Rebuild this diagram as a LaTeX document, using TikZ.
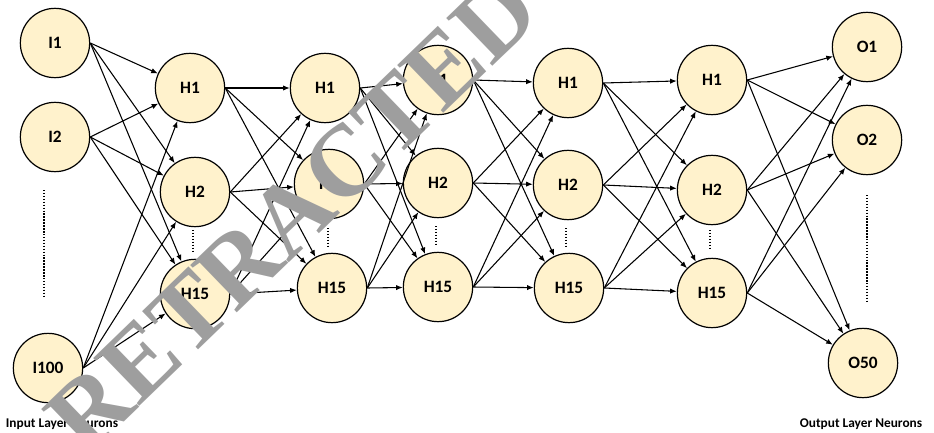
\documentclass[tikz,border=0pt]{standalone}
\usepackage{fontspec}
\setmainfont{Carlito}
\newfontfamily\stampfont{Liberation Serif}
\usepackage{tikz}
\usetikzlibrary{arrows.meta}
\definecolor{cellfill}{HTML}{FFF2CC}
\definecolor{stampgray}{RGB}{158,158,158}

\begin{document}
\begin{tikzpicture}[x=0.75pt, y=-0.75pt]
    \tikzstyle{neuron}=[circle, draw, line width=0.9pt, fill=cellfill,
                        minimum size=52pt, inner sep=0pt,
                        font=\fontsize{13}{15}\selectfont\bfseries]
    \tikzstyle{syn}=[line width=0.8pt, -{Latex[length=5pt,width=4pt]}]
    \tikzstyle{more}=[line width=1.6pt, dash pattern=on 1.1pt off 1.1pt]
    \tikzstyle{caption}=[font=\fontsize{10}{12}\selectfont\bfseries]
    \useasboundingbox (0,0) rectangle (934,432);
    % neurons: layer l, row n
    \foreach \x/\y/\name/\txt in {55/43/l0n1/I1, 55/137/l0n2/I2, 48/368/l0n3/I100,
        190/88/l1n1/H1, 195/192/l1n2/H2, 195/294/l1n3/H15,
        325/88/l2n1/H1, 329/184/l2n2/H2, 332/288/l2n3/H15,
        438/80/l3n1/H1, 438/183/l3n2/H2, 438/287/l3n3/H15,
        568/83/l4n1/H1, 568/185/l4n2/H2, 569/288/l4n3/H15,
        712/80/l5n1/H1, 712/190/l5n2/H2, 712/293/l5n3/H15,
        867/47/l6n1/O1, 867/140/l6n2/O2, 863/363/l6n3/O50}
        \node[neuron] (\name) at (\x,\y) {\txt};
    % connections
    \foreach \l [evaluate=\l as \m using int(\l+1)] in {0,...,5}
        \foreach \s in {1,2,3}
            \foreach \t in {1,2,3}
                \draw[syn] (l\l n\s.east) -- (l\m n\t);
    % skipped neurons
    \draw[more] (44,190) -- (44,298);
    \draw[more] (867,195) -- (867,302);
    \foreach \x/\a/\b in {193/230/252, 328/228/247, 436/226/245, 566/228/248, 710/230/250}
        \draw[more] (\x,\a) -- (\x,\b);
    \node[caption] (inlab) at (62,424) {Input Layer Neurons};
    \node[caption] (outlab) at (861,424) {Output Layer Neurons};
    % stamp
    \node[rotate=44, text=stampgray, inner sep=0pt,
          font=\stampfont\fontsize{76}{76}\selectfont\bfseries] (stamp) at (292,214) {RETRACTED};
\end{tikzpicture}
\end{document}
